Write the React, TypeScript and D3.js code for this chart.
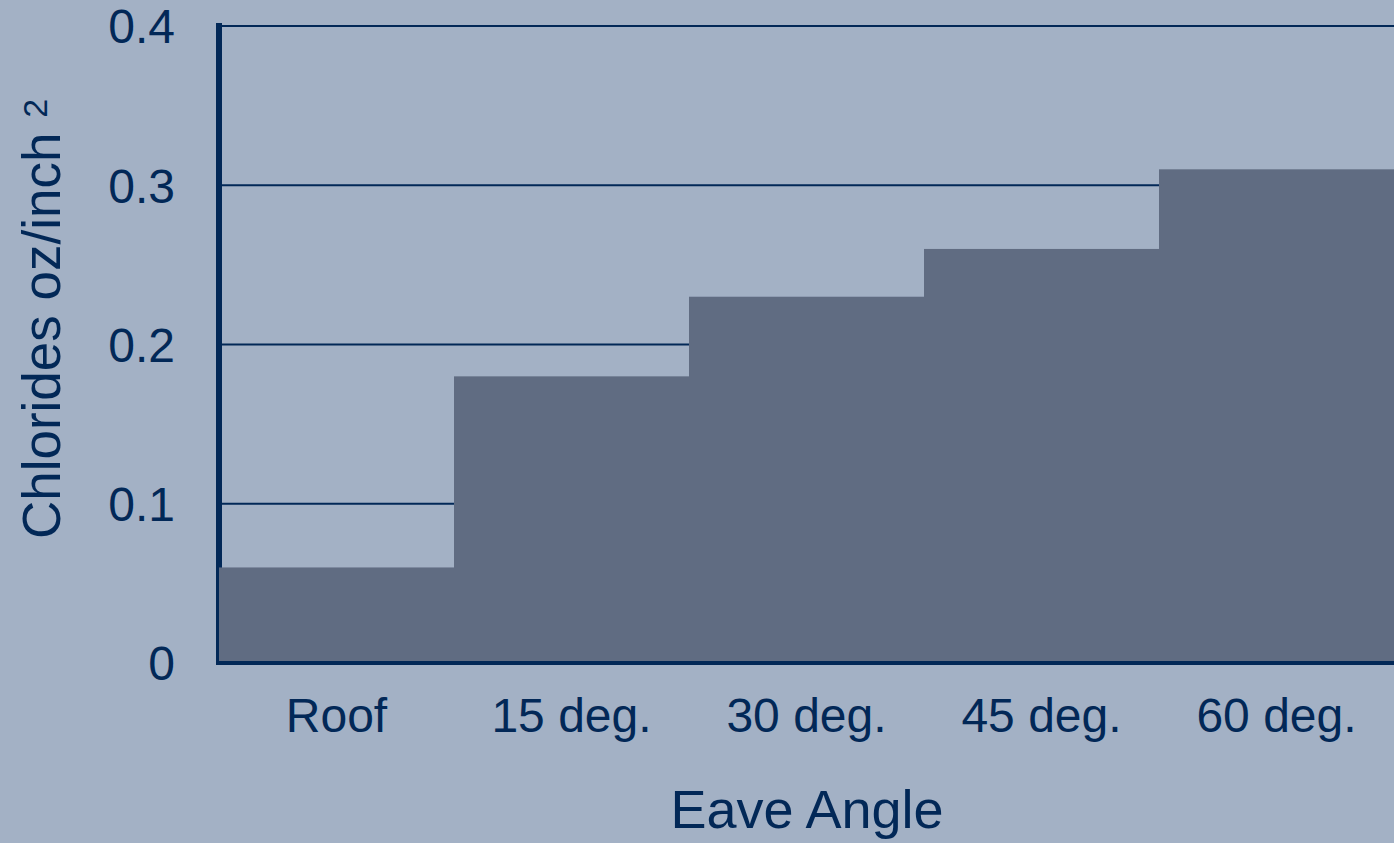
import React from "react";
import * as d3 from "d3";

// Chloride deposition by eave angle
const categories = ["Roof", "15 deg.", "30 deg.", "45 deg.", "60 deg."];
const chlorides = [0.06, 0.18, 0.23, 0.26, 0.31];
const yTicks = [0, 0.1, 0.2, 0.3, 0.4];
const yTickLabels = ["0", "0.1", "0.2", "0.3", "0.4"];

const W = 1394;
const H = 843;
const BG = "#a3b1c5";
const BAR = "#606c82";
const INK = "#022857";
const FONT = "'Liberation Sans', Arial, Helvetica, sans-serif";

export default function App() {
  const x = d3.scaleBand<string>().domain(categories).range([219, 1394]).padding(0);
  const y = d3.scaleLinear().domain([0, 0.4]).range([663, 26]);

  return (
    <svg
      width={W}
      height={H}
      style={{ position: "absolute", left: 0, top: 0, display: "block" }}
    >
      <rect x={0} y={0} width={W} height={H} fill={BG} />

      {/* horizontal gridlines */}
      {yTicks.slice(1).map((t) => (
        <line key={t} x1={222} x2={W} y1={y(t)} y2={y(t)} stroke={INK} strokeWidth={2.2} />
      ))}

      {/* value axis */}
      <line x1={219} x2={219} y1={23} y2={665} stroke={INK} strokeWidth={6} />

      {/* columns */}
      {categories.map((c, i) => (
        <rect
          key={c}
          x={x(c)}
          y={y(chlorides[i])}
          width={x.bandwidth()}
          height={y(0) - y(chlorides[i])}
          fill={BAR}
        />
      ))}

      {/* category axis */}
      <line x1={216} x2={W} y1={y(0)} y2={y(0)} stroke={INK} strokeWidth={4} />

      {/* y tick labels */}
      {yTicks.map((t, i) => (
        <text
          key={t}
          x={175}
          y={y(t)}
          dy="0.36em"
          textAnchor="end"
          fontFamily={FONT}
          fontSize={48}
          fill={INK}
        >
          {yTickLabels[i]}
        </text>
      ))}

      {/* x tick labels */}
      {categories.map((c) => (
        <text
          key={c}
          x={(x(c) as number) + x.bandwidth() / 2}
          y={732}
          textAnchor="middle"
          fontFamily={FONT}
          fontSize={48}
          fill={INK}
        >
          {c}
        </text>
      ))}

      {/* axis titles */}
      <text
        x={807}
        y={828}
        textAnchor="middle"
        fontFamily={FONT}
        fontSize={54}
        fill={INK}
      >
        Eave Angle
      </text>
      <text
        transform="translate(60,319) rotate(-90)"
        textAnchor="middle"
        fontFamily={FONT}
        fontSize={53}
        fill={INK}
      >
        {"Chlorides oz/inch "}
        <tspan fontSize={34} dy={-13}>
          2
        </tspan>
      </text>
    </svg>
  );
}
